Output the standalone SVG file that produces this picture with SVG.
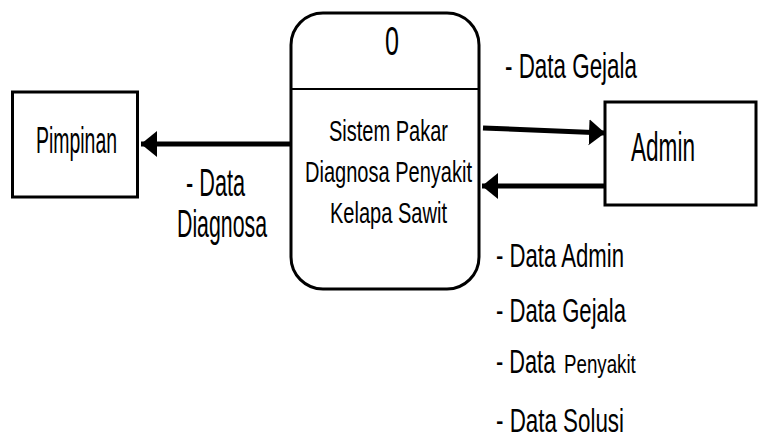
<svg xmlns="http://www.w3.org/2000/svg" width="759" height="439" viewBox="0 0 759 439">
<style>
  text { font-family: "Liberation Sans", Arial, sans-serif; fill: #000; }
  .box { fill: #fff; stroke: #000; stroke-width: 3; }
  .flow { fill: none; stroke: #000; stroke-width: 5; marker-end: url(#head); }
</style>
<defs>
  <marker id="head" markerUnits="userSpaceOnUse" markerWidth="18" markerHeight="28" refX="16" refY="13" orient="auto" viewBox="0 0 18 28">
    <path d="M0,0 L16,13 L0,26 z" fill="#000"/>
  </marker>
</defs>
<rect width="759" height="439" fill="#fff"/>
<g id="connectors">
  <line class="flow" x1="290" y1="144" x2="141" y2="144"/>
  <line class="flow" x1="483" y1="128" x2="605" y2="133"/>
  <line class="flow" x1="605" y1="186" x2="482" y2="186"/>
  <text x="186" y="196" font-size="38" textLength="59" lengthAdjust="spacingAndGlyphs">- Data</text>
  <text x="177" y="237" font-size="38" textLength="90" lengthAdjust="spacingAndGlyphs">Diagnosa</text>
  <text x="505" y="78" font-size="35" textLength="132" lengthAdjust="spacingAndGlyphs">- Data Gejala</text>
  <text x="496" y="267" font-size="33" textLength="128" lengthAdjust="spacingAndGlyphs">- Data Admin</text>
  <text x="496" y="322" font-size="33" textLength="130" lengthAdjust="spacingAndGlyphs">- Data Gejala</text>
  <text transform="translate(496,373) scale(0.66,1)" font-size="33">- Data</text>
  <text transform="translate(564,373) scale(0.72,1)" font-size="26">Penyakit</text>
  <text x="496" y="432" font-size="33" textLength="128" lengthAdjust="spacingAndGlyphs">- Data Solusi</text>
</g>
<g id="pimpinan">
  <rect class="box" x="12.5" y="92" width="125" height="105"/>
  <text x="36" y="153" font-size="37" textLength="81" lengthAdjust="spacingAndGlyphs">Pimpinan</text>
</g>
<g id="process0">
  <rect class="box" x="291" y="13" width="188" height="276" rx="32" ry="32"/>
  <line x1="291" y1="89" x2="479" y2="89" stroke="#000" stroke-width="2"/>
  <text x="385" y="55" font-size="41" textLength="14" lengthAdjust="spacingAndGlyphs">0</text>
  <text x="329" y="141" font-size="29" textLength="119" lengthAdjust="spacingAndGlyphs">Sistem Pakar</text>
  <text x="305" y="182" font-size="29" textLength="167" lengthAdjust="spacingAndGlyphs">Diagnosa Penyakit</text>
  <text x="330" y="223" font-size="29" textLength="117" lengthAdjust="spacingAndGlyphs">Kelapa Sawit</text>
</g>
<g id="admin">
  <rect class="box" x="605" y="102" width="151" height="103"/>
  <text x="631" y="161" font-size="41" textLength="64" lengthAdjust="spacingAndGlyphs">Admin</text>
</g>
</svg>
